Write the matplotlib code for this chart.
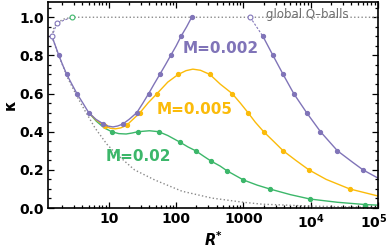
import numpy as np
import matplotlib
matplotlib.use('Agg')
import matplotlib.pyplot as plt
import matplotlib.transforms as mtransforms
from matplotlib.ticker import FixedLocator, MultipleLocator, LogLocator, NullFormatter

# colours
c_purple = '#8074b8'
c_yellow = '#fbbb0a'
c_green = '#3cb76a'
c_gray = '#8a8a8a'

# common descending branch (all M)
r_branch = [1.42, 1.6, 1.8, 2.05, 2.36, 2.8, 3.34, 4.1, 5.0]
k_branch = [0.90, 0.85, 0.80, 0.75, 0.70, 0.65, 0.60, 0.55, 0.50]

# M = 0.002
r_m002 = [6.4, 7.9, 9.5, 11.5, 13.5, 16, 20, 26, 32, 39, 47, 57, 69, 83, 100, 118, 143, 170]
k_m002 = [0.465, 0.445, 0.43, 0.425, 0.43, 0.44, 0.465, 0.50, 0.55, 0.60, 0.65, 0.70, 0.75,
          0.80, 0.85, 0.90, 0.95, 1.0]
r_m002_hi = [1950, 2750, 3900, 5600, 8700, 14000, 25000, 42000, 60000, 1e5]
k_m002_hi = [0.90, 0.80, 0.70, 0.60, 0.50, 0.40, 0.30, 0.24, 0.20, 0.157]
r_m002_dots = [1.8, 2.36, 3.34, 5.0, 8.2, 16, 26, 39, 57, 83, 118, 170,
               1950, 2750, 3900, 5600, 8700, 14000, 25000, 60000]
k_m002_dots = [0.80, 0.70, 0.60, 0.50, 0.44, 0.44, 0.50, 0.60, 0.70, 0.80, 0.90, 1.0,
               0.90, 0.80, 0.70, 0.60, 0.50, 0.40, 0.30, 0.20]
r_open = [1.42, 1.69, 2.8]
k_open = [0.90, 0.97, 1.0]
r_open_hi = [1260, 1950]
k_open_hi = [1.0, 0.90]

# M = 0.005
r_m005 = [6.5, 8.7, 10.5, 12.5, 15, 18.5, 22, 29, 38, 52, 75, 107, 140, 177, 230, 318, 450,
          680, 900, 1170, 1500, 2000, 2800, 3900, 6000, 9400, 17000, 38000, 1e5]
k_m005 = [0.46, 0.43, 0.418, 0.415, 0.42, 0.435, 0.46, 0.50, 0.55, 0.60, 0.66, 0.70, 0.72,
          0.728, 0.722, 0.70, 0.65, 0.60, 0.55, 0.50, 0.45, 0.40, 0.35, 0.30, 0.25, 0.20,
          0.15, 0.10, 0.063]
r_m005_dots = [8.7, 18.5, 29, 52, 107, 318, 680, 1170, 2000, 3900, 9400, 38000]
k_m005_dots = [0.43, 0.435, 0.50, 0.60, 0.70, 0.70, 0.60, 0.50, 0.40, 0.30, 0.20, 0.10]

# M = 0.02
r_m02 = [6.5, 8.5, 11, 14, 18, 22, 27, 40, 55, 75, 114, 150, 195, 260, 330, 450, 570, 1000,
         1600, 2450, 5000, 9800, 25000, 65000, 1e5]
k_m02 = [0.455, 0.42, 0.40, 0.39, 0.388, 0.393, 0.40, 0.405, 0.40, 0.38, 0.345, 0.32, 0.30,
         0.27, 0.246, 0.22, 0.195, 0.147, 0.12, 0.10, 0.07, 0.047, 0.03, 0.018, 0.015]
r_m02_dots = [11, 27, 55, 114, 195, 330, 570, 1000, 2450, 9800, 65000]
k_m02_dots = [0.40, 0.40, 0.40, 0.345, 0.30, 0.246, 0.195, 0.147, 0.10, 0.047, 0.018]

# global Q-balls (upper) and lower bound (dotted)
r_global = [1.42, 1.5, 1.69, 2.1, 2.8, 1e5]
k_global = [0.90, 0.94, 0.97, 0.99, 1.0, 1.0]
r_lower = [1.42, 1.7, 2.45, 3.3, 4.4, 6.2, 9.3, 12.3, 24, 48, 122, 340, 1000, 1900, 10000, 1e5]
k_lower = [0.90, 0.82, 0.68, 0.59, 0.51, 0.42, 0.335, 0.29, 0.20, 0.147, 0.088, 0.052, 0.03,
           0.02, 0.01, 0.003]

plt.rcParams['font.family'] = 'DejaVu Sans'

fig = plt.figure(figsize=(3.9, 2.5), dpi=100)
ax = fig.add_axes([0.123, 0.168, 0.846, 0.824])

ax.plot(r_global, k_global, ':', color=c_gray, lw=1.0)
ax.plot(r_lower, k_lower, ':', color=c_gray, lw=1.0)

ax.plot(r_branch[-1:] + r_m02, k_branch[-1:] + k_m02, '-', color=c_green, lw=1.0)
ax.plot(r_m02_dots, k_m02_dots, 'o', color=c_green, ms=2.8)
ax.plot(r_branch[-1:] + r_m005, k_branch[-1:] + k_m005, '-', color=c_yellow, lw=1.0)
ax.plot(r_m005_dots, k_m005_dots, 'o', color=c_yellow, ms=2.8)
ax.plot(r_branch + r_m002, k_branch + k_m002, '-', color=c_purple, lw=1.0)
ax.plot(r_m002_hi, k_m002_hi, '-', color=c_purple, lw=1.0)
ax.plot(r_m002_dots, k_m002_dots, 'o', color=c_purple, ms=2.8)
ax.plot(r_open, k_open, '--', color=c_purple, lw=0.8, dashes=(2, 1.5))
ax.plot(r_open_hi, k_open_hi, '--', color=c_purple, lw=0.8, dashes=(2, 1.5))
ax.plot(r_open[:2] + r_open_hi[:1], k_open[:2] + k_open_hi[:1], 'o', mfc='white',
        mec=c_purple, ms=3.5, mew=0.8)
ax.plot(r_open[2:], k_open[2:], 'o', mfc='white', mec=c_green, ms=3.5, mew=0.8)

ax.text(2150, 0.995, 'global Q\u2013balls', color='#6e6e6e', fontsize=8.5,
        ha='left', va='baseline')
ax.text(462, 0.838, 'M=0.002', color=c_purple, fontsize=11, fontweight='bold',
        ha='center', va='center')
ax.text(191, 0.518, 'M=0.005', color=c_yellow, fontsize=11, fontweight='bold',
        ha='center', va='center')
ax.text(27, 0.272, 'M=0.02', color=c_green, fontsize=11, fontweight='bold',
        ha='center', va='center')

ax.set_xscale('log')
ax.set_xlim(1.24, 1e5)
ax.set_ylim(0, 1.08)

ax.xaxis.set_major_locator(FixedLocator([10, 100, 1000, 1e4, 1e5]))
ax.set_xticklabels(['10', '100', '1000', r'$\mathbf{10^4}$', r'$\mathbf{10^5}$'])
ax.xaxis.set_minor_locator(LogLocator(base=10, subs=np.arange(2, 10)))
ax.xaxis.set_minor_formatter(NullFormatter())
ax.yaxis.set_major_locator(MultipleLocator(0.2))
ax.yaxis.set_minor_locator(MultipleLocator(0.05))
ax.set_yticklabels(['%.1f' % v for v in ax.get_yticks()])

ax.tick_params(which='both', direction='in', top=True, right=True, width=0.9)
ax.tick_params(which='major', length=4, labelsize=10, pad=3)
ax.tick_params(which='minor', length=2)
for lab in ax.get_xticklabels() + ax.get_yticklabels():
    lab.set_fontweight('bold')
for sp in ax.spines.values():
    sp.set_linewidth(1.2)

# nudge the last x tick label so it stays inside the figure
last = ax.get_xticklabels()[-1]
last.set_transform(last.get_transform() +
                   mtransforms.ScaledTranslation(-3 / 72, 0, fig.dpi_scale_trans))

ax.set_ylabel('\u03ba', fontsize=11, fontweight='bold', labelpad=1)
ax.set_xlabel(r'$\mathbfit{R}^{\mathbf{*}}$', fontsize=10.5, labelpad=0)

fig.savefig('out.png', dpi=100)
